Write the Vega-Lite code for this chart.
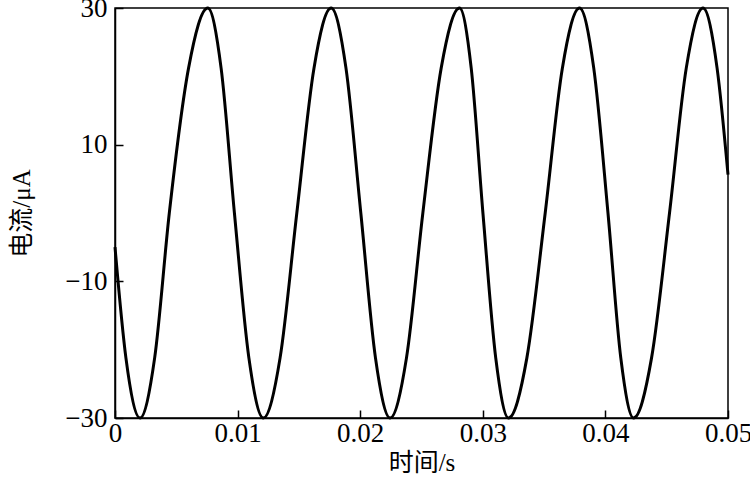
{
  "$schema": "https://vega.github.io/schema/vega-lite/v6.json",
  "width": 613,
  "height": 410,
  "autosize": {"type": "none"},
  "padding": {"left": 115, "top": 8, "right": 22, "bottom": 67},
  "background": "white",
  "config": {
    "view": {"stroke": "black", "strokeWidth": 1.5},
    "axis": {
      "domainColor": "black",
      "domainWidth": 1.5,
      "tickColor": "black",
      "tickWidth": 1.5,
      "tickSize": -8,
      "grid": false,
      "labelFont": "Times New Roman, Liberation Serif, serif",
      "labelFontSize": 27,
      "labelColor": "black",
      "titleFont": "Times New Roman, Liberation Serif, Noto Sans CJK SC, serif",
      "titleFontSize": 25,
      "titleFontWeight": "normal",
      "titleColor": "black"
    }
  },
  "data": {
    "values": [
      {"t": 0.0, "i": -5.0},
      {"t": 0.00089, "i": -21.2},
      {"t": 0.00204, "i": -30},
      {"t": 0.003235, "i": -21.2},
      {"t": 0.00443, "i": 0},
      {"t": 0.0060, "i": 21.2},
      {"t": 0.00757, "i": 30},
      {"t": 0.008655, "i": 21.2},
      {"t": 0.00974, "i": 0},
      {"t": 0.01092, "i": -21.2},
      {"t": 0.0121, "i": -30},
      {"t": 0.013465, "i": -21.2},
      {"t": 0.01483, "i": 0},
      {"t": 0.01623, "i": 21.2},
      {"t": 0.01763, "i": 30},
      {"t": 0.01884, "i": 21.2},
      {"t": 0.02005, "i": 0},
      {"t": 0.021245, "i": -21.2},
      {"t": 0.02244, "i": -30},
      {"t": 0.023775, "i": -21.2},
      {"t": 0.02511, "i": 0},
      {"t": 0.026605, "i": 21.2},
      {"t": 0.0281, "i": 30},
      {"t": 0.029055, "i": 21.2},
      {"t": 0.03001, "i": 0},
      {"t": 0.031055, "i": -21.2},
      {"t": 0.0321, "i": -30},
      {"t": 0.033595, "i": -21.2},
      {"t": 0.03509, "i": 0},
      {"t": 0.03649, "i": 21.2},
      {"t": 0.03789, "i": 30},
      {"t": 0.03905, "i": 21.2},
      {"t": 0.04021, "i": 0},
      {"t": 0.041255, "i": -21.2},
      {"t": 0.0423, "i": -30},
      {"t": 0.043765, "i": -21.2},
      {"t": 0.04523, "i": 0},
      {"t": 0.046595, "i": 21.2},
      {"t": 0.04796, "i": 30},
      {"t": 0.04911, "i": 21.2},
      {"t": 0.05, "i": 5.6}
    ]
  },
  "mark": {"type": "line", "color": "black", "strokeWidth": 3, "interpolate": "monotone", "clip": false},
  "encoding": {
    "x": {
      "field": "t",
      "type": "quantitative",
      "title": "时间/s",
      "scale": {"domain": [0, 0.05], "nice": false, "zero": false},
      "axis": {"values": [0, 0.01, 0.02, 0.03, 0.04, 0.05], "format": "~g", "labelPadding": 10, "titlePadding": 4, "labelFlush": false}
    },
    "y": {
      "field": "i",
      "type": "quantitative",
      "title": "电流/μA",
      "scale": {"domain": [-30, 30], "nice": false},
      "axis": {"values": [-30, -10, 10, 30], "labelPadding": 16, "titlePadding": 30}
    }
  }
}
